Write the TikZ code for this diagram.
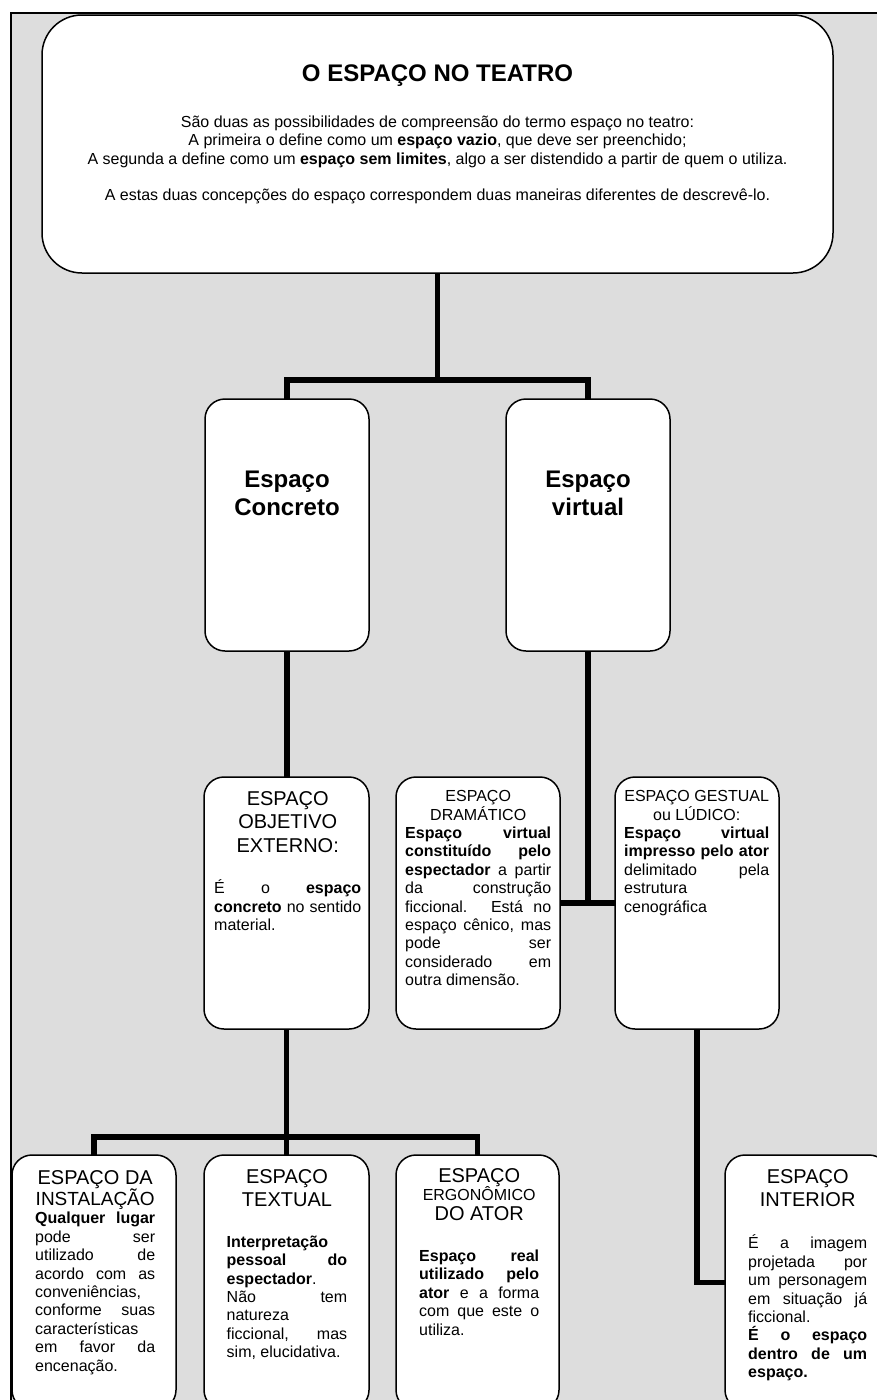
\documentclass[tikz,border=0pt]{standalone}
\usepackage{fontspec}
\setmainfont{Liberation Sans}
\definecolor{bgg}{RGB}{221,221,221}
\newcommand\lnC[1]{\hbox to\hsize{\hss#1\hss}}
\newcommand\lnJ[1]{\hbox to\hsize{#1}}
\newcommand\lnL[1]{\hbox to\hsize{#1\hfil}}
\newcommand\bsk[1]{\baselineskip=#1pt\relax}
\newcommand\tbx[2]{\vtop{\hsize=#1pt\lineskiplimit=-1000pt\relax#2}}
\newcommand\fH{\fontsize{20}{23.4}\selectfont}
\newcommand\fB{\fontsize{16}{18.4}\selectfont}
\begin{document}
\begin{tikzpicture}[x=1pt,y=-1pt,
  box/.style={draw=black, line width=1.5pt, fill=white, rounded corners=20pt, inner sep=0pt, outer sep=0pt, anchor=north west},
  conn/.style={line width=5.5pt, line join=miter},
  txt/.style={inner sep=0pt, anchor=base west},
]
\useasboundingbox (0,0) rectangle (877,1400);
\clip (0,0) rectangle (877,1400);
\draw[line width=2pt, fill=bgg] (11,13) rectangle (900,1420);
% boxes
\node[box, rounded corners=40pt, minimum width=791pt, minimum height=258pt] (top) at (42,15) {};
\node[box, minimum width=164pt, minimum height=252pt] (conc) at (205,399) {};
\node[box, minimum width=164pt, minimum height=252pt] (virt) at (506,399) {};
\node[box, minimum width=165pt, minimum height=252pt] (obj) at (204,777) {};
\node[box, minimum width=164pt, minimum height=252pt] (dram) at (396,777) {};
\node[box, minimum width=164pt, minimum height=252pt] (gest) at (615,777) {};
\node[box, minimum width=164pt, minimum height=255pt] (inst) at (12,1155) {};
\node[box, minimum width=165pt, minimum height=255pt] (textual) at (204,1155) {};
\node[box, minimum width=163pt, minimum height=255pt] (ergo) at (396,1155) {};
\node[box, minimum width=164pt, minimum height=255pt] (int) at (725,1155) {};
% connectors
\coordinate (j1) at (437.5,380);
\coordinate (j3) at (286.5,1137);
\draw[conn] (top.south) -- (top.south |- j1);
\draw[conn] (conc.north) |- (j1) -| (virt.north);
\draw[conn] (virt.south) -- (virt.south |- dram.east);
\draw[conn] (dram.east) -- (gest.west);
\draw[conn] (conc.south) -- (conc.south |- obj.north);
\draw[conn] (obj.south) -- (obj.south |- textual.north);
\draw[conn] (inst.north) |- (j3) -| (ergo.north);
\draw[conn] (gest.south) |- (int.west);
% texts
\node[inner sep=0pt, anchor=base] (title) at (437.5,81) {\fontsize{24}{28}\selectfont\bfseries O ESPAÇO NO TEATRO};
\node[inner sep=0pt, anchor=base] (intro) at (437.5,127.4) {\tbx{780}{\fB
 \lnC{São duas as possibilidades de compreensão do termo espaço no teatro:}
 \lnC{A primeira o define como um \textbf{espaço vazio}, que deve ser preenchido;}
 \lnC{A segunda a define como um \textbf{espaço sem limites}, algo a ser distendido a partir de quem o utiliza.}
 \bsk{36.7}\lnC{A estas duas concepções do espaço correspondem duas maneiras diferentes de descrevê-lo.}}};
\node[inner sep=0pt, anchor=base] (conc-t) at (287,487.5) {\tbx{160}{\fontsize{24}{28}\selectfont\bfseries\lnC{Espaço}\lnC{Concreto}}};
\node[inner sep=0pt, anchor=base] (virt-t) at (588,487.5) {\tbx{160}{\fontsize{24}{28}\selectfont\bfseries\lnC{Espaço}\lnC{virtual}}};
\node[txt] (obj-t) at (214,805) {\tbx{147}{\fH\bsk{23.5}\lnC{ESPAÇO}\lnC{OBJETIVO}\lnC{EXTERNO:}\fB\bsk{41.6}\lnJ{É o \textbf{espaço}}\bsk{18.4}\lnJ{\textbf{concreto} no sentido}\lnL{material.}}};
\node[txt] (dram-t) at (405,801.7) {\tbx{146}{\fB\lnC{ESPAÇO}\lnC{DRAMÁTICO}\lnJ{\textbf{Espaço virtual}}\lnJ{\textbf{constituído pelo}}\lnJ{\textbf{espectador} a partir}\lnJ{da construção}\lnJ{ficcional. Está no}\lnJ{espaço cênico, mas}\lnJ{pode ser}\lnJ{considerado em}\lnL{outra dimensão.}}};
\node[txt] (gest-t) at (624,801.7) {\tbx{145}{\fB\lnC{ESPAÇO GESTUAL}\lnC{ou LÚDICO:}\lnJ{\textbf{Espaço virtual}}\lnJ{\textbf{impresso pelo ator}}\lnJ{delimitado pela}\lnL{estrutura}\lnL{cenográfica}}};
\node[txt] (inst-t) at (35,1184) {\tbx{120}{\fH\lnC{ESPAÇO DA}\bsk{21.5}\lnC{\fontsize{19}{21.5}\selectfont INSTALAÇÃO}\fB\bsk{18.3}\lnJ{\textbf{Qualquer lugar}}\bsk{18.4}\lnJ{pode ser}\lnJ{utilizado de}\lnJ{acordo com as}\lnL{conveniências,}\lnJ{conforme suas}\lnL{características}\lnJ{em favor da}\lnL{encenação.}}};
\node[txt] (textual-t) at (226.5,1183.2) {\tbx{120.5}{\fH\lnC{ESPAÇO}\lnC{TEXTUAL}\fB\bsk{40.7}\lnL{\textbf{Interpretação}}\bsk{18.4}\lnJ{\textbf{pessoal do}}\lnL{\textbf{espectador}.}\lnJ{Não tem}\lnL{natureza}\lnJ{ficcional, mas}\lnL{sim, elucidativa.}}};
\node[txt] (ergo-t) at (419,1182.2) {\tbx{120}{\fH\lnC{ESPAÇO}\fB\bsk{17.8}\lnC{ERGONÔMICO}\fH\bsk{20.5}\lnC{DO ATOR}\fB\bsk{40.5}\lnJ{\textbf{Espaço real}}\bsk{18.5}\lnJ{\textbf{utilizado pelo}}\lnJ{\textbf{ator} e a forma}\lnJ{com que este o}\lnL{utiliza.}}};
\node[txt] (int-t) at (748,1183.2) {\tbx{119}{\fH\lnC{ESPAÇO}\lnC{INTERIOR}\fB\bsk{42.3}\lnJ{É a imagem}\bsk{18.4}\lnJ{projetada por}\lnJ{um personagem}\lnJ{em situação já}\lnL{ficcional.}\lnJ{\textbf{É o espaço}}\lnJ{\textbf{dentro de um}}\lnL{\textbf{espaço.}}}};
\end{tikzpicture}
\end{document}
